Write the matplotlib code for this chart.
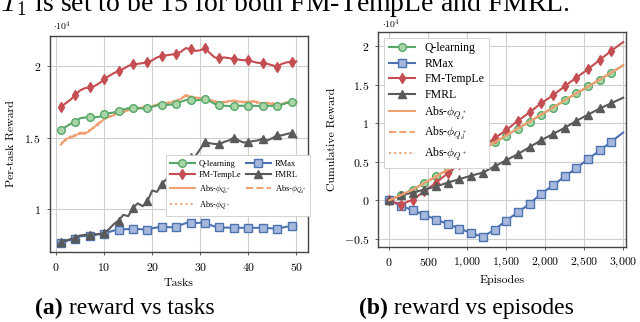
import numpy as np
import matplotlib
matplotlib.use('Agg')
import matplotlib.pyplot as plt
from matplotlib.ticker import FuncFormatter, FixedLocator

plt.rcParams['mathtext.fontset'] = 'cm'
plt.rcParams['font.family'] = 'cmr10'
plt.rcParams['axes.formatter.use_mathtext'] = True
plt.rcParams['axes.unicode_minus'] = False

###Data (rewards in units of 1e4)

#Panel (a): per-task reward vs tasks
tasks = np.arange(1, 51)
q_task = np.array([1.556, 1.575, 1.595, 1.61, 1.635, 1.64, 1.64, 1.642, 1.645, 1.663,
                   1.67, 1.675, 1.687, 1.695, 1.705, 1.708, 1.705, 1.703, 1.703, 1.715,
                   1.725, 1.727, 1.728, 1.73, 1.734, 1.75, 1.762, 1.762, 1.76, 1.762,
                   1.766, 1.755, 1.735, 1.727, 1.722, 1.72, 1.72, 1.722, 1.722, 1.722,
                   1.722, 1.721, 1.722, 1.722, 1.721, 1.72, 1.73, 1.742, 1.745, 1.745])
rmax_task = np.array([0.764, 0.775, 0.785, 0.792, 0.81, 0.812, 0.815, 0.82, 0.824, 0.827,
                      0.84, 0.85, 0.855, 0.858, 0.86, 0.862, 0.86, 0.858, 0.857, 0.865,
                      0.872, 0.873, 0.874, 0.873, 0.873, 0.89, 0.902, 0.904, 0.903, 0.904,
                      0.904, 0.89, 0.878, 0.873, 0.871, 0.87, 0.869, 0.869, 0.869, 0.869,
                      0.869, 0.869, 0.869, 0.867, 0.865, 0.862, 0.87, 0.877, 0.88, 0.88])
fmt_task = np.array([1.715, 1.74, 1.765, 1.797, 1.83, 1.845, 1.85, 1.86, 1.88, 1.907,
                     1.93, 1.95, 1.965, 1.98, 2.0, 2.012, 2.015, 2.02, 2.026, 2.04,
                     2.06, 2.07, 2.075, 2.08, 2.084, 2.1, 2.125, 2.117, 2.105, 2.11,
                     2.124, 2.09, 2.06, 2.054, 2.06, 2.055, 2.049, 2.045, 2.04, 2.042,
                     2.03, 2.022, 2.019, 2.015, 2.005, 1.995, 2.015, 2.025, 2.03, 2.032])
fmrl_task = np.array([0.768, 0.78, 0.79, 0.798, 0.815, 0.82, 0.82, 0.823, 0.826, 0.831,
                      0.86, 0.895, 0.92, 0.96, 0.95, 1.009, 1.04, 1.02, 1.055, 1.13,
                      1.12, 1.177, 1.21, 1.24, 1.275, 1.31, 1.37, 1.364, 1.37, 1.42,
                      1.469, 1.46, 1.455, 1.453, 1.47, 1.48, 1.50, 1.48, 1.465, 1.469,
                      1.475, 1.48, 1.493, 1.48, 1.495, 1.516, 1.515, 1.525, 1.532, 1.50])
abs_s_task = np.array([1.45, 1.49, 1.50, 1.515, 1.53, 1.525, 1.55, 1.575, 1.60, 1.63,
                       1.645, 1.655, 1.675, 1.68, 1.69, 1.70, 1.705, 1.71, 1.708, 1.715,
                       1.73, 1.735, 1.74, 1.745, 1.755, 1.77, 1.798, 1.785, 1.78, 1.775,
                       1.773, 1.765, 1.75, 1.74, 1.745, 1.755, 1.757, 1.752, 1.745, 1.75,
                       1.752, 1.745, 1.738, 1.742, 1.735, 1.728, 1.735, 1.745, 1.748, 1.752])
abs_d_task = np.array([1.455, 1.485, 1.505, 1.51, 1.535, 1.53, 1.545, 1.58, 1.605, 1.625,
                       1.65, 1.66, 1.67, 1.685, 1.695, 1.705, 1.70, 1.715, 1.712, 1.72,
                       1.725, 1.74, 1.738, 1.75, 1.758, 1.775, 1.79, 1.78, 1.775, 1.78,
                       1.77, 1.76, 1.755, 1.745, 1.75, 1.75, 1.76, 1.748, 1.75, 1.745,
                       1.755, 1.748, 1.742, 1.738, 1.74, 1.732, 1.738, 1.74, 1.752, 1.748])
abs_q_task = np.array([1.46, 1.48, 1.51, 1.52, 1.525, 1.535, 1.555, 1.57, 1.595, 1.635,
                       1.64, 1.665, 1.68, 1.675, 1.695, 1.698, 1.71, 1.705, 1.715, 1.718,
                       1.735, 1.73, 1.745, 1.748, 1.752, 1.772, 1.795, 1.79, 1.778, 1.772,
                       1.775, 1.762, 1.752, 1.742, 1.742, 1.758, 1.752, 1.755, 1.748, 1.752,
                       1.748, 1.742, 1.74, 1.745, 1.738, 1.73, 1.732, 1.748, 1.745, 1.75])

#Panel (b): cumulative reward vs episodes
episodes = np.arange(0, 3001, 150)
q_ep = np.array([0.0, 0.068, 0.138, 0.224, 0.31, 0.397, 0.483, 0.568, 0.66, 0.75, 0.84,
                 0.93, 1.02, 1.11, 1.20, 1.295, 1.385, 1.475, 1.565, 1.655, 1.75])
rmax_ep = np.array([0.0, -0.068, -0.129, -0.185, -0.249, -0.305, -0.366, -0.421, -0.473, -0.379, -0.262,
                    -0.155, -0.043, 0.087, 0.194, 0.31, 0.418, 0.535, 0.646, 0.762, 0.879])
fmt_ep = np.array([0.0, -0.055, 0.01, 0.115, 0.23, 0.35, 0.47, 0.585, 0.695, 0.805, 0.91,
                   1.03, 1.14, 1.26, 1.36, 1.48, 1.59, 1.70, 1.82, 1.94, 2.05])
fmrl_ep = np.array([0.0, 0.065, 0.10, 0.14, 0.18, 0.23, 0.275, 0.32, 0.36, 0.44, 0.52,
                    0.60, 0.69, 0.78, 0.86, 0.94, 1.03, 1.11, 1.19, 1.26, 1.33])
abs_s_ep = np.array([0.0, 0.07, 0.14, 0.225, 0.31, 0.398, 0.485, 0.57, 0.662, 0.752, 0.842,
                     0.932, 1.022, 1.112, 1.202, 1.297, 1.387, 1.477, 1.567, 1.657, 1.752])
abs_d_ep = np.array([0.0, 0.069, 0.139, 0.224, 0.311, 0.397, 0.484, 0.569, 0.661, 0.751, 0.841,
                     0.931, 1.021, 1.111, 1.201, 1.296, 1.386, 1.476, 1.566, 1.656, 1.751])
abs_q_ep = np.array([0.0, 0.068, 0.138, 0.223, 0.309, 0.396, 0.482, 0.567, 0.659, 0.749, 0.839,
                     0.929, 1.019, 1.109, 1.199, 1.294, 1.384, 1.474, 1.564, 1.654, 1.749])

###Styles
c_q, f_q = '#55a868', '#a9d5a9'
c_r, f_r = '#4c72b0', '#a7b8dd'
c_f = '#c44e52'
c_m = '#5a5a5a'
c_a = '#f0a070'
edge = '#444444'
serif = 'Liberation Serif'

W, H = 640.0, 322.0

def style_axes(ax):
    ax.grid(color='#cfcfcf', linewidth=0.8)
    ax.set_axisbelow(True)
    for s in ax.spines.values():
        s.set_color(edge)
        s.set_linewidth(1.0)
    ax.tick_params(direction='out', length=2.5, width=0.6, color=edge, labelsize=8.5, pad=4)

fig = plt.figure(figsize=(6.4, 3.22), dpi=100)
ax1 = fig.add_axes([0.078, 0.2174, 0.403, 0.671])
ax2 = fig.add_axes([0.591, 0.2339, 0.387, 0.6677])

##Panel (a)
mk = dict(linewidth=1.5, markersize=5.5, markeredgewidth=1.0, markevery=3)
ax1.plot(tasks, abs_s_task*1e4, color=c_a, linewidth=1.4, linestyle='-', label=r'Abs-$\phi_{Q^*_s}$')
ax1.plot(tasks, abs_d_task*1e4, color=c_a, linewidth=1.4, linestyle='--', label=r'Abs-$\phi_{Q^*_d}$')
ax1.plot(tasks, abs_q_task*1e4, color=c_a, linewidth=1.4, linestyle=':', label=r'Abs-$\phi_{Q^*}$')
ax1.plot(tasks, q_task*1e4, color=c_q, marker='o', mfc=f_q, mec=c_q, label='Q-learning', **mk)
ax1.plot(tasks, rmax_task*1e4, color=c_r, marker='s', mfc=f_r, mec=c_r, label='RMax', **mk)
ax1.plot(tasks, fmt_task*1e4, color=c_f, marker='d', mfc=c_f, mec=c_f, label='FM-TempLe', **mk)
ax1.plot(tasks, fmrl_task*1e4, color=c_m, marker='^', mfc=c_m, mec=c_m, label='FMRL', **mk)

ax1.set_xlim(-1.3, 52.4)
ax1.set_ylim(0.70e4, 2.21e4)
ax1.xaxis.set_major_locator(FixedLocator([0, 10, 20, 30, 40, 50]))
ax1.yaxis.set_major_locator(FixedLocator([1e4, 1.5e4, 2e4]))
ax1.xaxis.set_major_formatter(FuncFormatter(lambda v, p: '$%d$' % v))
ax1.yaxis.set_major_formatter(FuncFormatter(lambda v, p: '$%g$' % (v/1e4)))
style_axes(ax1)
ax1.set_xlabel('Tasks', fontsize=8.5, labelpad=4)
ax1.set_ylabel('Per-task Reward', fontsize=8.5, labelpad=6)
fig.text(53/W, 1 - 30/H, r'$\cdot 10^4$', fontsize=7, ha='left', va='baseline')

#legend laid out row-wise like the original (2 columns)
hs, ls = ax1.get_legend_handles_labels()
order = [3, 5, 0, 2, 4, 6, 1]
leg1 = ax1.legend([hs[i] for i in order], [ls[i] for i in order], ncol=2,
                  prop={'family': serif, 'size': 6},
                  loc='lower right', bbox_to_anchor=(1.008, 0.167), borderaxespad=0.0,
                  handlelength=2.9, columnspacing=0.6, handletextpad=0.5, labelspacing=0.45,
                  borderpad=0.5, framealpha=1.0, fancybox=False, edgecolor='#cccccc')
leg1.get_frame().set_linewidth(0.6)

##Panel (b)
mk2 = dict(linewidth=1.5, markersize=5.5, markeredgewidth=1.0, markevery=list(range(20)))
ax2.plot(episodes, q_ep*1e4, color=c_q, marker='o', mfc=f_q, mec=c_q, label='Q-learning', **mk2)
ax2.plot(episodes, rmax_ep*1e4, color=c_r, marker='s', mfc=f_r, mec=c_r, label='RMax', **mk2)
ax2.plot(episodes, fmt_ep*1e4, color=c_f, marker='d', mfc=c_f, mec=c_f, label='FM-TempLe', **mk2)
ax2.plot(episodes, fmrl_ep*1e4, color=c_m, marker='^', mfc=c_m, mec=c_m, label='FMRL', **mk2)
ax2.plot(episodes, abs_s_ep*1e4, color=c_a, linewidth=1.4, linestyle='-', label=r'Abs-$\phi_{Q^*_s}$')
ax2.plot(episodes, abs_d_ep*1e4, color=c_a, linewidth=1.4, linestyle='--', label=r'Abs-$\phi_{Q^*_d}$')
ax2.plot(episodes, abs_q_ep*1e4, color=c_a, linewidth=1.4, linestyle=':', label=r'Abs-$\phi_{Q^*}$')

ax2.set_xlim(-141, 3035)
ax2.set_ylim(-0.6e4, 2.185e4)
ax2.xaxis.set_major_locator(FixedLocator([0, 500, 1000, 1500, 2000, 2500, 3000]))
ax2.yaxis.set_major_locator(FixedLocator([-0.5e4, 0, 0.5e4, 1e4, 1.5e4, 2e4]))
ax2.xaxis.set_major_formatter(FuncFormatter(lambda v, p: '$' + '{:,}'.format(int(v)).replace(',', '{,}') + '$'))
ax2.yaxis.set_major_formatter(FuncFormatter(lambda v, p: '$%g$' % (v/1e4)))
style_axes(ax2)
ax2.set_xlabel('Episodes', fontsize=8.5, labelpad=4)
ax2.set_ylabel('Cumulative Reward', fontsize=8.5, labelpad=5)
fig.text(382/W, 1 - 28/H, r'$\cdot 10^4$', fontsize=7, ha='left', va='baseline')

leg2 = ax2.legend(loc='upper left', prop={'family': serif, 'size': 8.5},
                  handlelength=2.2, labelspacing=0.3, borderpad=0.4, borderaxespad=0.5,
                  framealpha=1.0, fancybox=False, edgecolor='#cccccc')
leg2.get_frame().set_linewidth(0.6)

##Cut-off sentence above the figure and the two sub-captions
fig.text(0.0, 1 - 11/H, r'$T_1$ is set to be 15 for both FM-TempLe and FMRL.', family=serif,
         fontsize=20, ha='left', va='baseline')
cap_y = 1 - 314/H
ta = fig.text(35/W, cap_y, '(a)', family=serif, fontsize=17, weight='bold', ha='left', va='baseline')
tb = fig.text(359/W, cap_y, '(b)', family=serif, fontsize=17, weight='bold', ha='left', va='baseline')
fig.canvas.draw()
r = fig.canvas.get_renderer()
for t, s in [(ta, ' reward vs tasks'), (tb, ' reward vs episodes')]:
    bb = t.get_window_extent(r)
    fig.text(bb.x1/fig.bbox.width, cap_y, s, family=serif, fontsize=17, ha='left', va='baseline')

plt.savefig('out.png', dpi=100)
